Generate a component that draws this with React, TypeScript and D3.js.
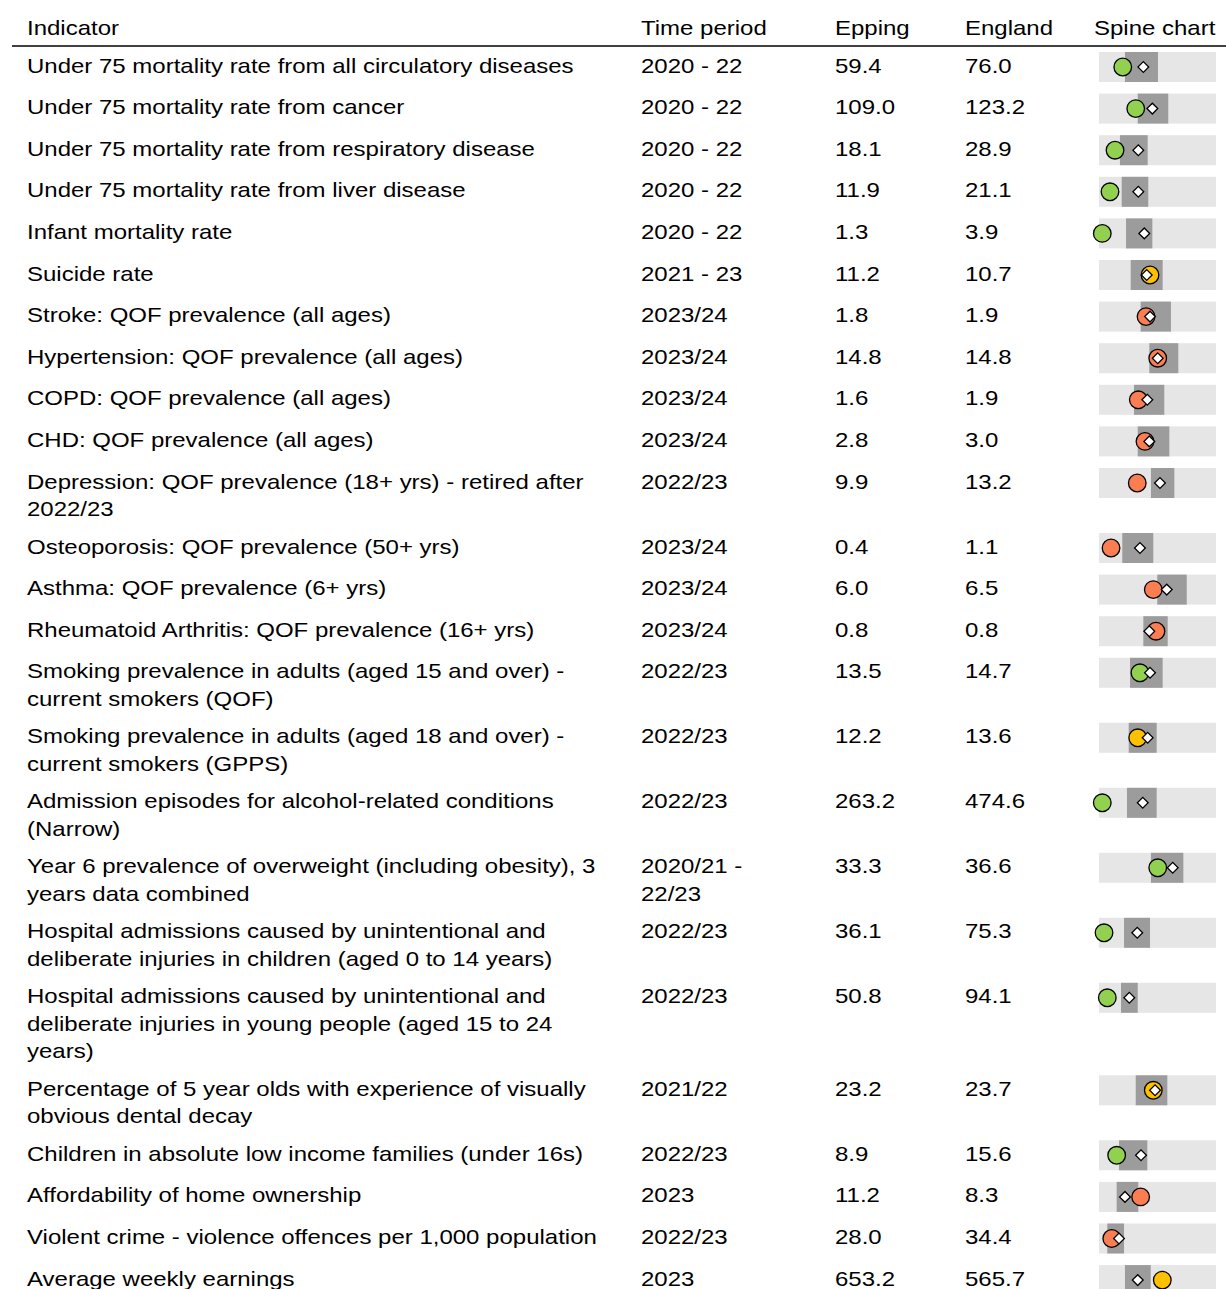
import React, { useEffect, useRef } from 'react';
import * as d3 from 'd3';

// table content
const indicators = [
  'Under 75 mortality rate from all circulatory diseases',
  'Under 75 mortality rate from cancer',
  'Under 75 mortality rate from respiratory disease',
  'Under 75 mortality rate from liver disease',
  'Infant mortality rate',
  'Suicide rate',
  'Stroke: QOF prevalence (all ages)',
  'Hypertension: QOF prevalence (all ages)',
  'COPD: QOF prevalence (all ages)',
  'CHD: QOF prevalence (all ages)',
  'Depression: QOF prevalence (18+ yrs) - retired after\n2022/23',
  'Osteoporosis: QOF prevalence (50+ yrs)',
  'Asthma: QOF prevalence (6+ yrs)',
  'Rheumatoid Arthritis: QOF prevalence (16+ yrs)',
  'Smoking prevalence in adults (aged 15 and over) -\ncurrent smokers (QOF)',
  'Smoking prevalence in adults (aged 18 and over) -\ncurrent smokers (GPPS)',
  'Admission episodes for alcohol-related conditions\n(Narrow)',
  'Year 6 prevalence of overweight (including obesity), 3\nyears data combined',
  'Hospital admissions caused by unintentional and\ndeliberate injuries in children (aged 0 to 14 years)',
  'Hospital admissions caused by unintentional and\ndeliberate injuries in young people (aged 15 to 24\nyears)',
  'Percentage of 5 year olds with experience of visually\nobvious dental decay',
  'Children in absolute low income families (under 16s)',
  'Affordability of home ownership',
  'Violent crime - violence offences per 1,000 population',
  'Average weekly earnings',
];

const periods = [
  '2020 - 22', '2020 - 22', '2020 - 22', '2020 - 22', '2020 - 22', '2021 - 23',
  '2023/24', '2023/24', '2023/24', '2023/24', '2022/23', '2023/24', '2023/24',
  '2023/24', '2022/23', '2022/23', '2022/23', '2020/21 -\n22/23', '2022/23',
  '2022/23', '2021/22', '2022/23', '2023', '2022/23', '2023',
];

const eppingValues = [
  59.4, 109.0, 18.1, 11.9, 1.3, 11.2, 1.8, 14.8, 1.6, 2.8, 9.9, 0.4, 6.0,
  0.8, 13.5, 12.2, 263.2, 33.3, 36.1, 50.8, 23.2, 8.9, 11.2, 28.0, 653.2,
];

const englandValues = [
  76.0, 123.2, 28.9, 21.1, 3.9, 10.7, 1.9, 14.8, 1.9, 3.0, 13.2, 1.1, 6.5,
  0.8, 14.7, 13.6, 474.6, 36.6, 75.3, 94.1, 23.7, 15.6, 8.3, 34.4, 565.7,
];

// spine positions on a 0-100 scale
const boxLow = [
  22.2, 33.1, 17.9, 19.4, 23.1, 27.1, 35.6, 43.0, 29.9, 33.1, 44.4, 19.9, 49.8,
  37.9, 26.5, 25.4, 23.9, 44.4, 21.4, 18.8, 31.4, 17.1, 15.1, 7.1, 22.2,
];
const boxHigh = [
  50.4, 59.2, 41.6, 42.1, 45.6, 54.4, 61.5, 67.8, 55.8, 60.1, 64.4, 46.4, 75.0,
  58.7, 54.4, 49.3, 49.3, 72.1, 43.6, 33.1, 58.4, 41.3, 33.6, 21.4, 44.2,
];
const localPos = [
  20.3, 31.4, 13.7, 9.4, 2.8, 43.6, 40.2, 50.2, 33.6, 39.3, 32.7, 10.3, 46.4,
  48.7, 35.0, 33.1, 2.8, 50.2, 4.3, 7.1, 46.4, 15.1, 35.6, 10.9, 54.1,
];
const englandPos = [
  37.9, 45.6, 33.6, 33.6, 38.7, 40.8, 43.6, 50.2, 41.3, 43.0, 52.1, 35.0, 57.9,
  43.0, 43.6, 41.6, 37.4, 63.0, 32.7, 25.9, 47.9, 35.9, 22.2, 17.1, 33.1,
];
const comparison = [
  'better', 'better', 'better', 'better', 'better', 'similar', 'worse', 'worse',
  'worse', 'worse', 'worse', 'worse', 'worse', 'worse', 'better', 'similar',
  'better', 'better', 'better', 'better', 'similar', 'better', 'worse', 'worse',
  'similar',
];

const headers = ['Indicator', 'Time period', 'Epping', 'England', 'Spine chart'];

const colours: Record<string, string> = {
  better: '#92d050',
  similar: '#ffc000',
  worse: '#fb7d52',
};

const width = 1226;
const height = 1289;
const fontSize = 20;
const stretch = 1.2; // the text in the source is drawn wide
const lineHeight = 27.5;
const colX = [27, 641, 835, 965, 1094];

const App = () => {
  const ref = useRef<SVGSVGElement>(null);

  useEffect(() => {
    const svg = d3.select(ref.current);
    svg.selectAll('*').remove();

    const font = '"Liberation Sans", Arial, sans-serif';

    const addText = (parent: any, x: number, y: number, txt: string) => {
      const t = parent.append('text')
        .attr('transform', `translate(${x}, ${y}) scale(${stretch}, 1)`)
        .attr('font-family', font)
        .attr('font-size', fontSize)
        .attr('fill', '#000');
      txt.split('\n').forEach((line, k) => {
        t.append('tspan')
          .attr('x', 0)
          .attr('y', k * lineHeight)
          .text(line);
      });
    };

    // header
    const head = svg.append('g');
    headers.forEach((h, i) => addText(head, colX[i], 35, h));

    svg.append('line')
      .attr('x1', 12).attr('x2', width)
      .attr('y1', 46).attr('y2', 46)
      .attr('stroke', '#000').attr('stroke-width', 1.5);

    // row layout from the number of wrapped lines
    const nLines = indicators.map((d, i) =>
      Math.max(d.split('\n').length, periods[i].split('\n').length));
    const rowH = nLines.map(n => Math.max(n * lineHeight + 10, 41.6));
    const rowTop: number[] = [];
    rowH.reduce((acc, h) => { rowTop.push(acc); return acc + h; }, 46);

    const x = d3.scaleLinear().domain([0, 100]).range([1099, 1216]);
    const diamond = d3.symbol().type(d3.symbolSquare).size(58);

    const rows = svg.append('g')
      .selectAll('g')
      .data(indicators)
      .join('g')
        .attr('transform', (d, i) => `translate(0, ${rowTop[i]})`);

    rows.each(function (d, i) {
      const g = d3.select(this);
      const cells = [
        indicators[i], periods[i], eppingValues[i].toFixed(1), englandValues[i].toFixed(1),
      ];
      cells.forEach((txt, c) => addText(g, colX[c], 26.5, txt));

      // spine
      g.append('rect')
        .attr('x', x(0)).attr('y', 6)
        .attr('width', x(100) - x(0)).attr('height', 30)
        .attr('fill', '#e6e6e6');
      g.append('rect')
        .attr('x', x(boxLow[i])).attr('y', 6)
        .attr('width', x(boxHigh[i]) - x(boxLow[i])).attr('height', 30)
        .attr('fill', '#9c9c9c');
      g.append('circle')
        .attr('cx', x(localPos[i])).attr('cy', 21)
        .attr('r', 8.8)
        .attr('fill', colours[comparison[i]])
        .attr('stroke', '#000').attr('stroke-width', 1.3);
      g.append('path')
        .attr('d', diamond())
        .attr('transform', `translate(${x(englandPos[i])}, 21) rotate(45)`)
        .attr('fill', '#fff')
        .attr('stroke', '#000').attr('stroke-width', 1.3);
    });
  }, []);

  return (
    <svg
      ref={ref}
      width={width}
      height={height}
      style={{ position: 'absolute', left: 0, top: 0, background: '#fff' }}
    />
  );
};

export default App;
